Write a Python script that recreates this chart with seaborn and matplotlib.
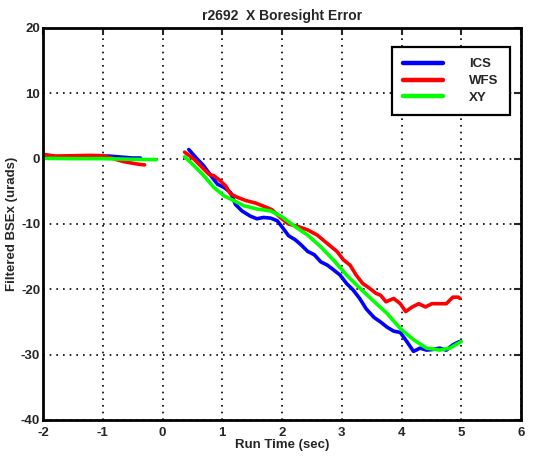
import numpy as np
import pandas as pd
import matplotlib
matplotlib.use("Agg")
import matplotlib.pyplot as plt
import seaborn as sns

# ---- data ----
series_names = ["ICS", "WFS", "XY"]
series_colors = ["#0000ff", "#ff0000", "#00ff00"]

ics_left_t = [-2.0, -1.7, -1.4, -1.1, -0.9, -0.7, -0.5, -0.37]
ics_left_v = [0.2, 0.1, 0.2, 0.35, 0.4, 0.25, 0.1, 0.1]
ics_right_t = [0.44, 0.56, 0.69, 0.81, 0.92, 1.03, 1.14, 1.22, 1.33, 1.47, 1.58, 1.69,
               1.81, 1.92, 2.03, 2.11, 2.22, 2.32, 2.43, 2.54, 2.65, 2.76, 2.86, 2.97,
               3.08, 3.19, 3.30, 3.41, 3.54, 3.65, 3.76, 3.87, 3.98, 4.09, 4.20, 4.31,
               4.42, 4.53, 4.64, 4.75, 4.86, 4.97]
ics_right_v = [1.4, 0.15, -1.1, -2.6, -3.9, -4.4, -5.2, -7.0, -8.0, -8.8, -9.2, -9.0,
               -9.1, -9.5, -10.8, -11.8, -12.4, -13.2, -14.2, -14.7, -15.8, -16.3, -17.0, -17.8,
               -19.1, -20.1, -21.4, -23.0, -24.3, -25.0, -25.8, -26.4, -26.6, -28.0, -29.5, -29.0,
               -29.3, -29.2, -29.0, -29.3, -28.5, -28.0]

wfs_left_t = [-2.0, -1.8, -1.5, -1.2, -1.0, -0.86, -0.75, -0.65, -0.5, -0.4, -0.3]
wfs_left_v = [0.66, 0.4, 0.45, 0.5, 0.45, 0.15, -0.2, -0.45, -0.7, -0.85, -0.95]
wfs_right_t = [0.37, 0.53, 0.67, 0.78, 0.86, 0.97, 1.06, 1.14, 1.25, 1.39, 1.56, 1.67,
               1.83, 1.97, 2.11, 2.27, 2.43, 2.59, 2.76, 2.92, 3.03, 3.14, 3.24, 3.35,
               3.46, 3.57, 3.65, 3.74, 3.87, 3.98, 4.07, 4.18, 4.29, 4.40, 4.51, 4.64,
               4.75, 4.86, 4.95, 4.98]
wfs_right_v = [1.0, -0.1, -1.4, -2.4, -2.6, -3.4, -4.2, -5.4, -5.9, -6.4, -6.8, -7.2,
               -7.8, -9.0, -10.0, -10.4, -10.9, -11.7, -13.0, -14.2, -15.5, -16.3, -17.8, -19.1,
               -19.8, -20.6, -20.9, -21.9, -21.4, -22.2, -23.4, -22.7, -22.2, -22.7, -22.2, -22.2,
               -22.2, -21.2, -21.2, -21.4]

xy_left_t = [-2.0, -1.5, -1.0, -0.5, -0.1]
xy_left_v = [0.05, 0.0, 0.0, -0.1, -0.15]
xy_right_t = [0.37, 0.53, 0.69, 0.86, 1.03, 1.19, 1.36, 1.58, 1.81, 2.0, 2.22, 2.43,
              2.65, 2.86, 3.08, 3.30, 3.51, 3.76, 3.98, 4.20, 4.42, 4.64, 4.81, 5.0]
xy_right_v = [0.3, -1.1, -2.6, -4.4, -5.7, -6.4, -7.2, -7.7, -8.0, -8.9, -10.4, -11.7,
              -13.5, -15.5, -17.8, -19.8, -21.6, -23.7, -26.0, -27.7, -29.0, -29.3, -29.0, -28.0]

x_ticks = [-2, -1, 0, 1, 2, 3, 4, 5, 6]
y_ticks = [-40, -30, -20, -10, 0, 10, 20]

# ---- build long-form table ----
frames = []
for name, segs in [("ICS", [(ics_left_t, ics_left_v), (ics_right_t, ics_right_v)]),
                   ("WFS", [(wfs_left_t, wfs_left_v), (wfs_right_t, wfs_right_v)]),
                   ("XY", [(xy_left_t, xy_left_v), (xy_right_t, xy_right_v)])]:
    for i, (t, v) in enumerate(segs):
        frames.append(pd.DataFrame({"t": t, "v": v, "series": name, "seg": i}))
df = pd.concat(frames, ignore_index=True)

sns.set_style("white")
plt.rcParams["font.family"] = ["Liberation Sans", "DejaVu Sans"]
plt.rcParams["font.weight"] = "bold"

fig = plt.figure(figsize=(5.43, 4.58), dpi=100)
ax = fig.add_axes([43 / 543, 1 - 420 / 458, (521 - 43) / 543, (420 - 28) / 458])

sns.lineplot(data=df, x="t", y="v", hue="series", units="seg", estimator=None,
             hue_order=series_names, palette=series_colors, linewidth=2.6,
             sort=False, ax=ax)

ax.set_xlim(-2, 6)
ax.set_ylim(-40, 20)
ax.set_xticks(x_ticks)
ax.set_yticks(y_ticks)
ax.set_xticklabels([str(v) for v in x_ticks], fontsize=9.5, fontweight="bold")
ax.set_yticklabels([str(v) for v in y_ticks], fontsize=9.5, fontweight="bold")
ax.tick_params(direction="in", length=5, width=1.5, top=True, right=True,
               labelsize=9.5)
ax.tick_params(axis="x", pad=5)
ax.tick_params(axis="y", pad=2)
ax.grid(True, color="black", linestyle=(0, (1, 3)), linewidth=1.2)
for s in ax.spines.values():
    s.set_visible(True)
    s.set_color("black")
    s.set_linewidth(2)

ax.set_title("r2692  X Boresight Error", fontsize=10, fontweight="bold", pad=6)
ax.set_xlabel("Run Time (sec)", fontsize=9.5, fontweight="bold", labelpad=0)
ax.set_ylabel("Filtered BSEx (urads)", fontsize=9.5, fontweight="bold", labelpad=2)

leg = ax.legend(loc="upper right", frameon=True, fancybox=False, framealpha=1,
                edgecolor="black", fontsize=9.5, handlelength=3.0, handletextpad=2.0,
                borderpad=0.85, labelspacing=0.35, borderaxespad=0,
                bbox_to_anchor=(0.976, 0.952))
leg.get_frame().set_linewidth(1.6)
for txt in leg.get_texts():
    txt.set_fontweight("bold")
for line in leg.get_lines():
    line.set_linewidth(3.2)

fig.savefig("out.png", dpi=100)
